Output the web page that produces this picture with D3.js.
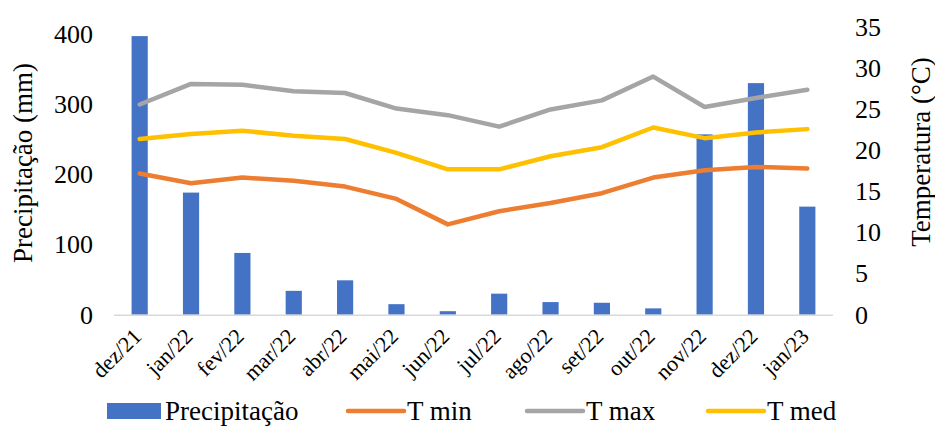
<!DOCTYPE html>
<html>
<head>
<meta charset="utf-8">
<script src="https://cdn.jsdelivr.net/npm/d3@7"></script>
<style>
  html, body { margin: 0; padding: 0; background: #fff; }
  svg { display: block; }
</style>
</head>
<body>
<svg id="chart" width="935" height="426"></svg>
<script>
// Monthly rainfall and temperatures, Dec/2021 – Jan/2023
const months = ["dez/21", "jan/22", "fev/22", "mar/22", "abr/22", "mai/22", "jun/22",
                "jul/22", "ago/22", "set/22", "out/22", "nov/22", "dez/22", "jan/23"];
const precipitation = [397, 174, 88, 34, 49, 15, 5, 30, 18, 17, 9, 257, 330, 154];
const tMin = [17.2, 16.0, 16.7, 16.3, 15.6, 14.1, 11.0, 12.6, 13.6, 14.8, 16.7, 17.6, 18.0, 17.8];
const tMax = [25.6, 28.1, 28.0, 27.2, 27.0, 25.1, 24.3, 22.9, 25.0, 26.1, 29.0, 25.3, 26.4, 27.4];
const tMed = [21.4, 22.0, 22.4, 21.8, 21.4, 19.7, 17.7, 17.7, 19.3, 20.4, 22.8, 21.5, 22.2, 22.6];
const precipTicks = [0, 100, 200, 300, 400];
const tempTicks = [0, 5, 10, 15, 20, 25, 30, 35];

const series = [
  { name: "T min", values: tMin, color: "#ED7D31" },
  { name: "T max", values: tMax, color: "#A5A5A5" },
  { name: "T med", values: tMed, color: "#FFC000" }
];
const barColor = "#4472C4";
const FONT = "Liberation Serif";

const svg = d3.select("#chart");
const plot = { left: 114, right: 833, bottom: 314.7 };

const x = d3.scaleBand().domain(months).range([plot.left, plot.right]).padding(0);
const yP = d3.scaleLinear().domain([0, 400]).range([plot.bottom, 34]);
const yT = d3.scaleLinear().domain([0, 35]).range([plot.bottom, 27.3]);
const barW = x.bandwidth() * 0.315;

// bars
svg.append("g").selectAll("rect")
  .data(precipitation)
  .join("rect")
  .attr("x", (d, i) => x(months[i]) + x.bandwidth() / 2 - barW / 2)
  .attr("y", d => yP(d))
  .attr("width", barW)
  .attr("height", d => yP(0) - yP(d))
  .attr("fill", barColor);

// category axis line
svg.append("line")
  .attr("x1", plot.left).attr("x2", plot.right)
  .attr("y1", plot.bottom + 0.5).attr("y2", plot.bottom + 0.5)
  .attr("stroke", "#D9D9D9").attr("stroke-width", 1.5);

// temperature lines
const line = d3.line()
  .x((d, i) => x(months[i]) + x.bandwidth() / 2)
  .y(d => yT(d));
svg.append("g").selectAll("path")
  .data(series)
  .join("path")
  .attr("d", s => line(s.values))
  .attr("fill", "none")
  .attr("stroke", s => s.color)
  .attr("stroke-width", 4.5)
  .attr("stroke-linecap", "round")
  .attr("stroke-linejoin", "round");

// left axis
const leftAxis = svg.append("g")
  .attr("transform", `translate(93,0)`)
  .call(d3.axisLeft(yP).tickValues(precipTicks).tickSize(0).tickPadding(0));
leftAxis.select(".domain").remove();
leftAxis.selectAll("text")
  .style("font-family", FONT).style("font-size", "26px").attr("fill", "#000");

// right axis
const rightAxis = svg.append("g")
  .attr("transform", `translate(855,0)`)
  .call(d3.axisRight(yT).tickValues(tempTicks).tickSize(0).tickPadding(0));
rightAxis.select(".domain").remove();
rightAxis.selectAll("text")
  .style("font-family", FONT).style("font-size", "26px").attr("fill", "#000");

// category labels, slanted
const bottomAxis = svg.append("g")
  .attr("transform", `translate(0,${plot.bottom})`)
  .call(d3.axisBottom(x).tickSize(0).tickPadding(0));
bottomAxis.select(".domain").remove();
bottomAxis.selectAll("text")
  .style("font-family", FONT).style("font-size", "22px").attr("fill", "#000")
  .attr("text-anchor", "end")
  .attr("dy", null)
  .attr("transform", "translate(3,23) rotate(-45)");

// axis titles
svg.append("text")
  .attr("transform", "translate(32,163) rotate(-90)")
  .attr("text-anchor", "middle")
  .style("font-family", FONT).style("font-size", "27px")
  .text("Precipitação (mm)");
svg.append("text")
  .attr("transform", "translate(930,152) rotate(-90)")
  .attr("text-anchor", "middle")
  .style("font-family", FONT).style("font-size", "27px")
  .text("Temperatura (°C)");

// legend
const legendY = 411;
const legend = svg.append("g");
legend.append("rect")
  .attr("x", 107).attr("y", legendY - 8).attr("width", 54).attr("height", 16)
  .attr("fill", barColor);
legend.append("text")
  .attr("x", 165).attr("y", legendY + 9)
  .style("font-family", FONT).style("font-size", "27px")
  .text("Precipitação");
const legendPos = [348, 527, 708];
series.forEach((s, i) => {
  const lx = legendPos[i];
  legend.append("line")
    .attr("x1", lx).attr("x2", lx + 56)
    .attr("y1", legendY).attr("y2", legendY)
    .attr("stroke", s.color).attr("stroke-width", 4.5).attr("stroke-linecap", "round");
  legend.append("text")
    .attr("x", lx + 59).attr("y", legendY + 9)
    .style("font-family", FONT).style("font-size", "27px")
    .text(s.name);
});
</script>
</body>
</html>
